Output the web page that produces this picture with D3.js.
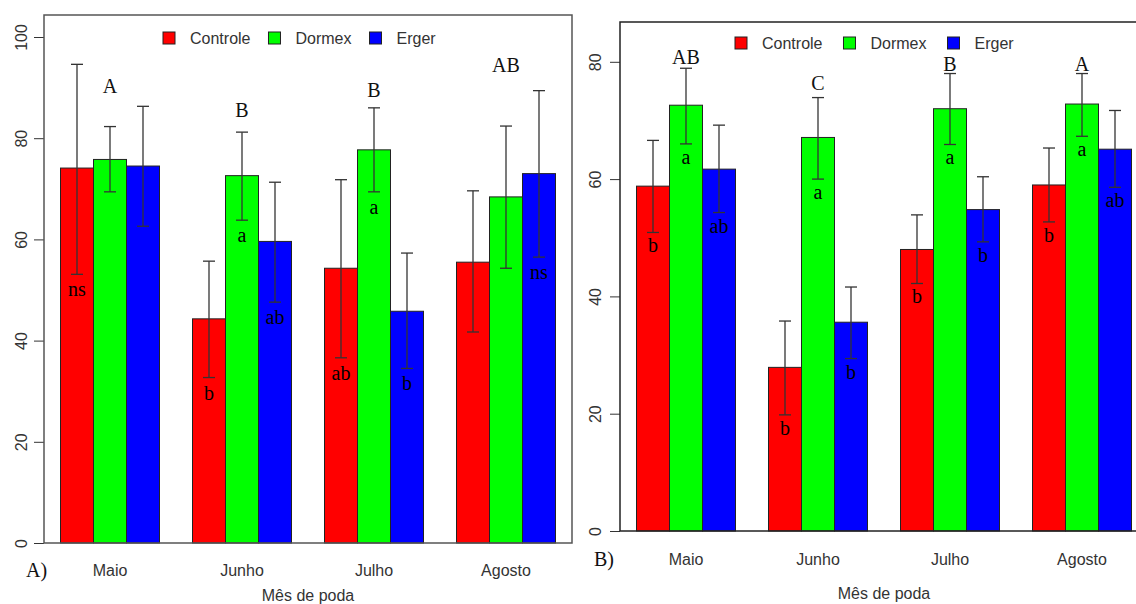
<!DOCTYPE html>
<html>
<head>
<meta charset="utf-8">
<script src="https://cdn.jsdelivr.net/npm/d3@7"></script>
<style>
  body { margin: 0; background: #fff; }
  svg { display: block; }
  .tick text { font-family: "Liberation Sans", Arial, sans-serif; font-size: 16px; fill: #333; }
  .tick line { stroke: #333; }
</style>
</head>
<body>
<script>
// categories and series
const months = ['Maio', 'Junho', 'Julho', 'Agosto']
const treatments = ['Controle', 'Dormex', 'Erger']
const colors = ['#ff0000', '#00ff00', '#0000ff']

// panel A - means per treatment (one array per series)
const controleA = [74.1, 44.3, 54.3, 55.5]
const dormexA = [75.8, 72.6, 77.7, 68.4]
const ergerA = [74.5, 59.6, 45.8, 73.0]
// error bar limits
const controleA_lo = [53.1, 32.7, 36.6, 41.7]
const controleA_hi = [94.6, 55.7, 71.8, 69.6]
const dormexA_lo = [69.4, 63.8, 69.4, 54.3]
const dormexA_hi = [82.3, 81.2, 86.0, 82.4]
const ergerA_lo = [62.6, 47.6, 34.5, 56.5]
const ergerA_hi = [86.3, 71.3, 57.3, 89.4]
// letters
const controleA_let = ['ns', 'b', 'ab', '']
const dormexA_let = ['', 'a', 'a', '']
const ergerA_let = ['', 'ab', 'b', 'ns']
const groupA_let = ['A', 'B', 'B', 'AB']
const groupA_letY = [90.3, 85.6, 89.5, 94.5]
const ticksA = [0, 20, 40, 60, 80, 100]

// panel B
const controleB = [58.8, 27.9, 48.0, 59.0]
const dormexB = [72.6, 67.1, 72.0, 72.8]
const ergerB = [61.7, 35.6, 54.8, 65.1]
const controleB_lo = [50.9, 19.8, 42.2, 52.7]
const controleB_hi = [66.6, 35.8, 53.9, 65.3]
const dormexB_lo = [66.0, 60.0, 65.9, 67.3]
const dormexB_hi = [78.9, 73.9, 78.0, 78.0]
const ergerB_lo = [54.3, 29.4, 49.3, 58.6]
const ergerB_hi = [69.2, 41.6, 60.4, 71.7]
const controleB_let = ['b', 'b', 'b', 'b']
const dormexB_let = ['a', 'a', 'a', 'a']
const ergerB_let = ['ab', 'b', 'b', 'ab']
const groupB_let = ['AB', 'C', 'B', 'A']
const groupB_letY = [80.8, 76.4, 79.7, 79.7]
const ticksB = [0, 20, 40, 60, 80]

const svg = d3.select('body').append('svg')
    .attr('width', 1136)
    .attr('height', 604)

function drawPanel(p) {
    const g = svg.append('g')

    // bar positions in barplot units: width 1, one unit gap between groups
    const x = d3.scaleLinear().domain([0.5, 16.5]).range([p.left, p.right])
    const y = d3.scaleLinear().domain([0, p.yMax]).range([p.bottom, p.top])
    const bw = x(2) - x(1)

    const rows = []
    months.forEach((m, i) => {
        p.means.forEach((s, j) => {
            const pos = 1 + i * 4 + j
            rows.push({ pos: pos, t: j, v: s[i], lo: p.lo[j][i], hi: p.hi[j][i], lab: p.lets[j][i] })
        })
    })

    // bars
    g.selectAll('.bar')
        .data(rows)
        .enter().append('rect')
        .attr('class', 'bar')
        .attr('x', d => x(d.pos))
        .attr('width', bw)
        .attr('y', d => y(d.v))
        .attr('height', d => y(0) - y(d.v))
        .attr('fill', d => colors[d.t])
        .attr('stroke', '#222')
        .attr('stroke-width', 1)

    // error bars
    const eb = g.selectAll('.err')
        .data(rows)
        .enter().append('g')
        .attr('class', 'err')
        .attr('stroke', '#333')
        .attr('stroke-width', 1.3)
    eb.append('line')
        .attr('x1', d => x(d.pos + 0.5)).attr('x2', d => x(d.pos + 0.5))
        .attr('y1', d => y(d.lo)).attr('y2', d => y(d.hi))
    eb.append('line')
        .attr('x1', d => x(d.pos + 0.5) - 6).attr('x2', d => x(d.pos + 0.5) + 6)
        .attr('y1', d => y(d.lo)).attr('y2', d => y(d.lo))
    eb.append('line')
        .attr('x1', d => x(d.pos + 0.5) - 6).attr('x2', d => x(d.pos + 0.5) + 6)
        .attr('y1', d => y(d.hi)).attr('y2', d => y(d.hi))

    // lowercase letters below the error bars
    g.selectAll('.lab')
        .data(rows.filter(d => d.lab))
        .enter().append('text')
        .attr('class', 'lab')
        .attr('x', d => x(d.pos + 0.5))
        .attr('y', d => y(d.lo) + p.labOff)
        .attr('text-anchor', 'middle')
        .attr('dominant-baseline', 'central')
        .style('font-family', '"Liberation Serif", "Times New Roman", serif')
        .style('font-size', '20px')
        .attr('fill', '#000')
        .text(d => d.lab)

    // uppercase letters over the groups
    g.selectAll('.glab')
        .data(p.groupLet)
        .enter().append('text')
        .attr('class', 'glab')
        .attr('x', (d, i) => x(1 + i * 4 + 1.5))
        .attr('y', (d, i) => y(p.groupLetY[i]))
        .attr('text-anchor', 'middle')
        .attr('dominant-baseline', 'central')
        .style('font-family', '"Liberation Serif", "Times New Roman", serif')
        .style('font-size', '20px')
        .attr('fill', '#111')
        .text(d => d)

    // y axis
    const ax = g.append('g')
        .attr('transform', 'translate(' + p.left + ',0)')
        .call(d3.axisLeft(y).tickValues(p.ticks).tickSize(10).tickSizeOuter(0))
    ax.select('.domain').remove()
    ax.selectAll('text')
        .attr('x', null)
        .attr('dy', null)
        .attr('text-anchor', 'middle')
        .attr('dominant-baseline', 'central')
        .attr('transform', 'translate(' + p.tickLabX + ',0) rotate(-90)')

    // box
    g.append('rect')
        .attr('x', p.left)
        .attr('y', p.boxTop)
        .attr('width', p.boxRight - p.left)
        .attr('height', p.bottom - p.boxTop)
        .attr('fill', 'none')
        .attr('stroke', p.boxColor)
        .attr('stroke-width', 1.5)

    // month names
    g.selectAll('.month')
        .data(months)
        .enter().append('text')
        .attr('x', (d, i) => x(1 + i * 4 + 1.5))
        .attr('y', p.monthY)
        .attr('text-anchor', 'middle')
        .attr('dominant-baseline', 'central')
        .style('font-family', '"Liberation Sans", Arial, sans-serif')
        .style('font-size', '16px')
        .attr('fill', '#333')
        .text(d => d)

    g.append('text')
        .attr('x', (p.left + p.right) / 2)
        .attr('y', p.titleY)
        .attr('text-anchor', 'middle')
        .attr('dominant-baseline', 'central')
        .style('font-family', '"Liberation Sans", Arial, sans-serif')
        .style('font-size', '16px')
        .attr('fill', '#333')
        .text('Mês de poda')

    g.append('text')
        .attr('x', p.tagX)
        .attr('y', p.monthY)
        .attr('dominant-baseline', 'central')
        .style('font-family', '"Liberation Serif", "Times New Roman", serif')
        .style('font-size', '20px')
        .attr('fill', '#111')
        .text(p.tag)

    // legend
    let lx = p.legX
    treatments.forEach((t, i) => {
        g.append('rect')
            .attr('x', lx).attr('y', p.legY - 6)
            .attr('width', 12).attr('height', 12)
            .attr('fill', colors[i])
            .attr('stroke', '#222')
        const txt = g.append('text')
            .attr('x', lx + 27)
            .attr('y', p.legY)
            .attr('dominant-baseline', 'central')
            .style('font-family', '"Liberation Sans", Arial, sans-serif')
            .style('font-size', '16px')
            .attr('fill', '#333')
            .text(t)
        lx += 27 + txt.node().getComputedTextLength() + p.legGap
    })
}

drawPanel({
    means: [controleA, dormexA, ergerA],
    lo: [controleA_lo, dormexA_lo, ergerA_lo],
    hi: [controleA_hi, dormexA_hi, ergerA_hi],
    lets: [controleA_let, dormexA_let, ergerA_let],
    groupLet: groupA_let, groupLetY: groupA_letY, ticks: ticksA,
    left: 44, right: 572, boxRight: 572, top: 37, yMax: 100, bottom: 543, boxTop: 15,
    boxColor: '#555', labOff: 15, tickLabX: -23,
    monthY: 570, titleY: 595, tag: 'A)', tagX: 26,
    legX: 163, legY: 38, legGap: 18
})

drawPanel({
    means: [controleB, dormexB, ergerB],
    lo: [controleB_lo, dormexB_lo, ergerB_lo],
    hi: [controleB_hi, dormexB_hi, ergerB_hi],
    lets: [controleB_let, dormexB_let, ergerB_let],
    groupLet: groupB_let, groupLetY: groupB_letY, ticks: ticksB,
    left: 620, right: 1148, boxRight: 1150, top: 61.8, yMax: 80, bottom: 531, boxTop: 22,
    boxColor: '#222', labOff: 13, tickLabX: -25,
    monthY: 559, titleY: 593, tag: 'B)', tagX: 594,
    legX: 735, legY: 43, legGap: 21
})
</script>
</body>
</html>
